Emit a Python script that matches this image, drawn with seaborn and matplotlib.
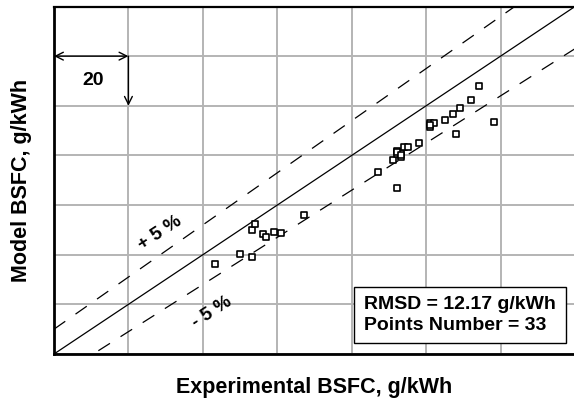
import numpy as np
import pandas as pd
import matplotlib
matplotlib.use("Agg")
import matplotlib.pyplot as plt
import seaborn as sns

# Data (g/kWh)
exp_bsfc = [243.2, 250.1, 253.1, 253.1, 254.1, 256.1, 257.1, 259.2, 261.1, 267.1,
            287.1, 292.1, 291.2, 292.1, 292.1, 293.2, 293.2, 294.1, 295.2, 298.1,
            301.1, 301.1, 302.1, 305.1, 307.1, 309.1, 308.1, 312.1, 314.2, 318.2,
            292.1, 293.2, 301.1]
model_bsfc = [236.3, 240.3, 239.2, 249.8, 252.5, 248.3, 247.3, 249.0, 248.8, 255.9,
              273.2, 266.8, 278.2, 281.7, 280.5, 280.9, 279.3, 283.5, 283.3, 285.1,
              293.0, 291.6, 293.2, 294.3, 296.6, 299.0, 288.8, 302.3, 308.0, 293.3,
              281.2, 280.0, 292.3]
axis_min, axis_max, step = 200, 340, 20
tolerance = 0.05
rmsd_text = "RMSD = 12.17 g/kWh\nPoints Number = 33"

sns.set_style("white")
plt.rcParams['font.family'] = ['Liberation Sans', 'DejaVu Sans']
plt.rcParams['text.color'] = 'black'
plt.rcParams['axes.labelcolor'] = 'black'

fig = plt.figure(figsize=(5.74, 4.04), dpi=100)
ax = fig.add_axes([54/574, 50/404, 521/574, 347.5/404])

df = pd.DataFrame({"exp": exp_bsfc, "model": model_bsfc})

# reference lines
xs = np.array([axis_min, axis_max], dtype=float)
ax.plot(xs, xs, color="black", lw=0.9, zorder=2)
ax.plot(xs, xs * (1 + tolerance), color="black", lw=0.9, dashes=(11, 10), zorder=2)
ax.plot(xs, xs * (1 - tolerance), color="black", lw=0.9, dashes=(11, 10), zorder=2)

sns.scatterplot(data=df, x="exp", y="model", marker="s", s=20, facecolor="white",
                edgecolor="black", linewidth=1.2, ax=ax, zorder=3)

ax.set_xlim(axis_min, axis_max)
ax.set_ylim(axis_min, axis_max)
ticks = np.arange(axis_min, axis_max + 1, step)
ax.set_xticks(ticks)
ax.set_yticks(ticks)
ax.set_xticklabels([])
ax.set_yticklabels([])
ax.tick_params(length=0)
ax.grid(True, color="#b4b4b4", lw=1.4)
ax.set_axisbelow(True)
for side in ["left", "bottom"]:
    ax.spines[side].set_linewidth(2.0)
    ax.spines[side].set_color("black")
ax.spines["top"].set_linewidth(1.6)
ax.spines["top"].set_color("black")
ax.spines["right"].set_visible(False)

ax.set_xlabel("Experimental BSFC, g/kWh", fontsize=15.5, fontweight="bold", labelpad=13)
ax.set_ylabel("Model BSFC, g/kWh", fontsize=15.5, fontweight="bold", labelpad=12)

# "20" scale annotation
ax.annotate("", xy=(axis_min, 320), xytext=(axis_min + step, 320),
            arrowprops=dict(arrowstyle="<->", color="black", lw=1.0,
                            shrinkA=0, shrinkB=0, mutation_scale=14))
ax.annotate("", xy=(axis_min + step, 300), xytext=(axis_min + step, 320),
            arrowprops=dict(arrowstyle="->", color="black", lw=1.0,
                            shrinkA=0, shrinkB=0, mutation_scale=14))
ax.text(210.5, 310, "20", fontsize=14, fontweight="bold", ha="center", va="center")

ax.text(228.4, 248.6, "+ 5 %", fontsize=13.5, fontweight="bold", ha="center",
        va="center", rotation=33)
ax.text(242.4, 217.0, "- 5 %", fontsize=13.5, fontweight="bold", ha="center",
        va="center", rotation=33)

ax.text(0.595, 0.112, rmsd_text, transform=ax.transAxes, fontsize=14,
        fontweight="bold", ha="left", va="center", linespacing=1.25,
        bbox=dict(boxstyle="square,pad=0.5", facecolor="white",
                  edgecolor="black", lw=1.0), zorder=5)

fig.savefig("out.png", dpi=100)
